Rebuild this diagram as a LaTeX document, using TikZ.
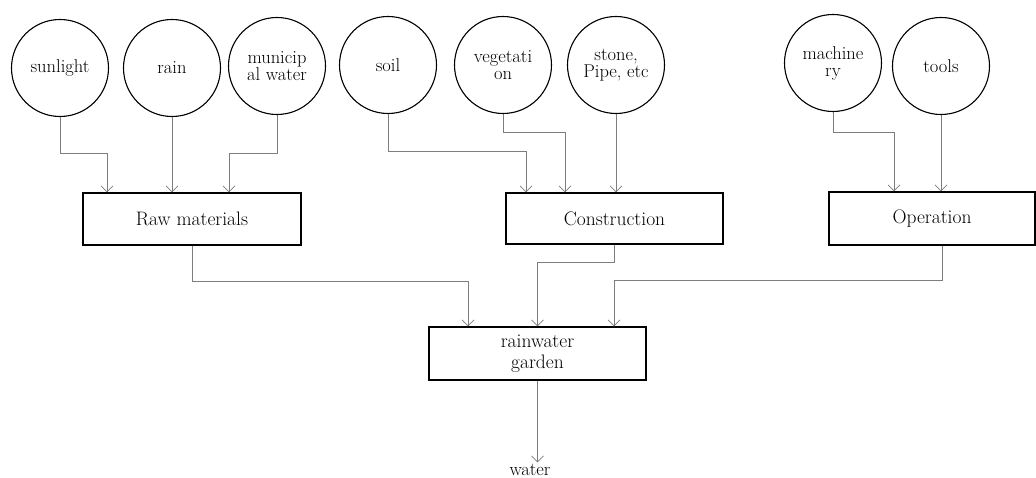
\documentclass[tikz,border=0pt]{standalone}
\usepackage{fontspec}
\usetikzlibrary{arrows.meta}
\definecolor{linegray}{RGB}{125,125,125}
\begin{document}
\begin{tikzpicture}[x=1pt,y=-1pt,
  src/.style={draw=black,line width=1.1pt,circle,minimum size=97pt,inner sep=0pt,align=center,font=\fontsize{18.5}{17}\selectfont},
  box/.style={draw=black,line width=1.3pt,rectangle,inner sep=0pt,align=center,font=\fontsize{19.5}{21}\selectfont},
  arr/.style={draw=linegray,line width=0.7pt,-{Straight Barb[length=6pt,width=12pt,line width=0.7pt]}}
]
\useasboundingbox (0,0) rectangle (1036,478);
% source circles
\node[src] (sun)   at (60,68)  {sunlight};
\node[src] (rain)  at (172,68) {rain};
\node[src] (muni)  at (277,66) {municip\\al water};
\node[src] (soil)  at (388,65) {soil};
\node[src] (veg)   at (503,65) {vegetati\\on};
\node[src] (stone) at (616,65) {stone,\\Pipe, etc};
\node[src] (mach)  at (833,63) {machine\\ry};
\node[src] (tools) at (941,66) {tools};
% boxes
\node[box,minimum width=218pt,minimum height=52pt] (raw)  at (192,219)   {Raw materials};
\node[box,minimum width=217pt,minimum height=51pt] (cons) at (614.5,218.5) {Construction};
\node[box,minimum width=206pt,minimum height=53pt] (oper) at (932,218.5) {Operation};
\node[box,minimum width=217pt,minimum height=53pt] (garden) at (537.5,353.5) {rainwater\\garden};
\node[inner sep=1pt,anchor=base,font=\fontsize{18.5}{18}\selectfont] (water) at (530,475) {water};
% connectors to raw materials
\draw[arr] (sun.south) -- ++(0,36) -| ([xshift=-85pt]raw.north);
\draw[arr] (rain.south) -- (rain.south |- raw.north);
\draw[arr] (muni.south) -- ++(0,38) -| ([xshift=37pt]raw.north);
% connectors to construction
\draw[arr] (soil.south) -- ++(0,37) -| ([xshift=-88.5pt]cons.north);
\draw[arr] (veg.south) -- ++(0,18) -| ([xshift=-49.5pt]cons.north);
\draw[arr] (stone.south) -- (stone.south |- cons.north);
% connectors to operation
\draw[arr] (mach.south) -- ++(0,20) -| ([xshift=-38pt]oper.north);
\draw[arr] (tools.south) -- (tools.south |- oper.north);
% connectors to garden
\draw[arr] (raw.south) -- ++(0,36) -| ([xshift=-69.5pt]garden.north);
\draw[arr] (cons.south) -- ++(0,18) -| (garden.north);
\draw[arr] ([xshift=10pt]oper.south) -- ++(0,35) -| ([xshift=76.5pt]garden.north);
\draw[arr] (garden.south) -- (garden.south |- water.north);
\end{tikzpicture}
\end{document}
